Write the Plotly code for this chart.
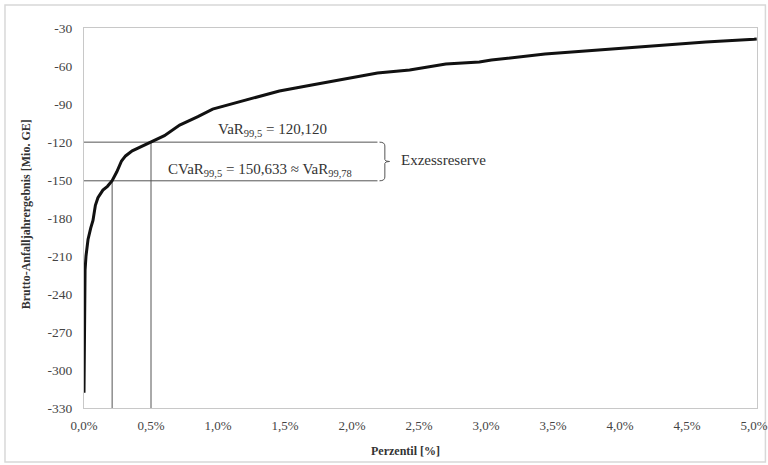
import plotly.graph_objects as go

# Curve data: percentile [%] vs. gross accident-year result [Mio. GE]
perzentil = [0.0, 0.002, 0.005, 0.008, 0.015, 0.03, 0.05, 0.067, 0.085, 0.104, 0.141, 0.175, 0.21,
             0.245, 0.28, 0.31, 0.36, 0.4, 0.45, 0.5, 0.6, 0.714, 0.85, 0.96, 1.213, 1.458,
             1.70, 1.95, 2.19, 2.43, 2.70, 2.95, 3.04, 3.44, 3.84, 4.23, 4.64, 5.0, 5.02]
ergebnis = [-318, -290, -240, -221, -210, -197, -188, -182, -170, -164, -158, -155, -150.6,
            -143.5, -135, -131, -127, -125, -122.5, -120.1, -115, -106.6, -100, -94, -86.8, -79.7,
            -75, -70.3, -65.5, -63.2, -58.4, -56.8, -55.3, -50.5, -47.4, -44.2, -41, -38.8, -38.6]

var_pct, var_val = 0.5, -120.12
cvar_pct, cvar_val = 0.21, -150.633
line_end = 2.19

x_ticks = [0, 0.5, 1.0, 1.5, 2.0, 2.5, 3.0, 3.5, 4.0, 4.5, 5.0]
x_ticktext = ["0,0%", "0,5%", "1,0%", "1,5%", "2,0%", "2,5%", "3,0%", "3,5%", "4,0%", "4,5%", "5,0%"]
y_ticks = [-30, -60, -90, -120, -150, -180, -210, -240, -270, -300, -330]
y_ticktext = ["-30", "-60", "-90", "-120", "-150", "-180", "-210", "-240", "-270", "-300", "-330"]

serif = "'Liberation Serif', 'Times New Roman', serif"
gray = "#555555"

fig = go.Figure()

# reference lines
for xs, ys in [([0, line_end], [var_val, var_val]),
               ([0, line_end], [cvar_val, cvar_val]),
               ([var_pct, var_pct], [-330, var_val]),
               ([cvar_pct, cvar_pct], [-330, cvar_val])]:
    fig.add_trace(go.Scatter(x=xs, y=ys, mode="lines", line=dict(color=gray, width=1),
                             hoverinfo="skip", showlegend=False))

# main curve
fig.add_trace(go.Scatter(x=perzentil, y=ergebnis, mode="lines",
                         line=dict(color="#111111", width=3), showlegend=False))

# brace (curly bracket) between the two horizontal lines
x0, x1, x2 = 2.205, 2.245, 2.28
ym = (var_val + cvar_val) / 2
path = (f"M {x0},{var_val} Q {x1},{var_val} {x1},{var_val-3} "
        f"L {x1},{ym+1.5} Q {x1},{ym} {x2},{ym} Q {x1},{ym} {x1},{ym-1.5} "
        f"L {x1},{cvar_val+3} Q {x1},{cvar_val} {x0},{cvar_val}")
fig.add_shape(type="path", path=path, xref="x", yref="y",
              line=dict(color=gray, width=1))

# outer chart border
fig.add_shape(type="rect", xref="paper", yref="paper",
              x0=-0.1174, x1=1.0125, y0=-0.142, y1=1.0605,
              line=dict(color="#d8d8d8", width=1.5), layer="below")

ann_font = dict(family=serif, size=15, color="#333333")
fig.add_annotation(x=1.41, y=var_val, xref="x", yref="y", yanchor="bottom", yshift=1,
                   text="VaR<sub>99,5</sub> = 120,120", showarrow=False, font=ann_font)
fig.add_annotation(x=1.31, y=cvar_val, xref="x", yref="y", yanchor="bottom", yshift=0,
                   text="CVaR<sub>99,5</sub> = 150,633 ≈ VaR<sub>99,78</sub>",
                   showarrow=False, font=ann_font)
fig.add_annotation(x=2.35, y=ym + 1, xref="x", yref="y", xanchor="left",
                   text="Exzessreserve", showarrow=False, font=ann_font)

# axis titles
fig.add_annotation(x=0.478, y=-0.112, xref="paper", yref="paper", xanchor="center",
                   yanchor="middle", text="<b>Perzentil [%]</b>", showarrow=False,
                   font=dict(family=serif, size=12, color="#333333"))
fig.add_annotation(x=-0.086, y=0.51, xref="paper", yref="paper", xanchor="center",
                   yanchor="middle", textangle=-90,
                   text="<b>Brutto-Anfalljahrergebnis [Mio. GE]</b>", showarrow=False,
                   font=dict(family=serif, size=12, color="#333333"))

fig.update_layout(
    width=768, height=465,
    margin=dict(l=84, r=11, t=28, b=57, autoexpand=False),
    paper_bgcolor="white", plot_bgcolor="white",
    font=dict(family=serif, size=13, color="#444444"),
    xaxis=dict(range=[0, 5.022], tickvals=x_ticks, ticktext=x_ticktext, showgrid=False,
               zeroline=False, showline=True, linecolor="#c8c8c8", linewidth=1, mirror=True,
               ticks="outside", ticklen=5, tickcolor="rgba(0,0,0,0)",
               ticklabeloverflow="allow", automargin=False,
               tickfont=dict(family=serif, size=13, color="#444444")),
    yaxis=dict(range=[-330, -30], tickvals=y_ticks, ticktext=y_ticktext, showgrid=False,
               zeroline=False, showline=True, linecolor="#c8c8c8", linewidth=1, mirror=True,
               ticks="outside", ticklen=8, tickcolor="rgba(0,0,0,0)", automargin=False,
               tickfont=dict(family=serif, size=13.5, color="#444444")),
    showlegend=False,
)

fig.write_html("out.html", config={"displayModeBar": False},
               post_script="document.body.style.margin='0px';")
